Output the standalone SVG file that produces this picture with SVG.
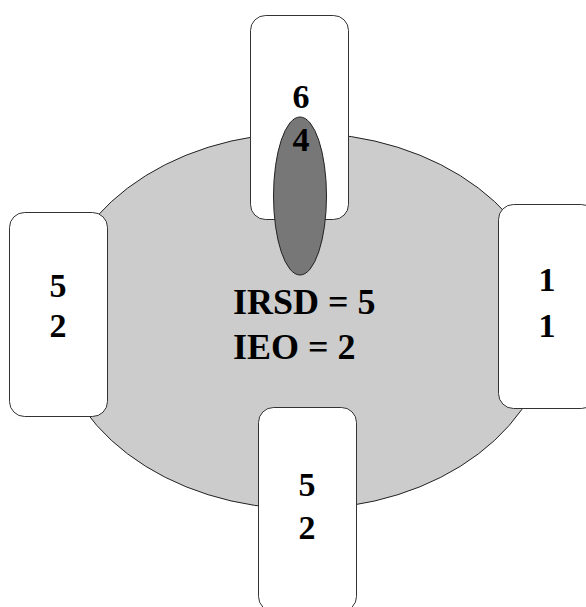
<svg xmlns="http://www.w3.org/2000/svg" width="586" height="607" viewBox="0 0 586 607">
  <style>
    .table { fill: #cccccc; stroke: #222222; stroke-width: 1; }
    .seat { fill: #ffffff; stroke: #333333; stroke-width: 1; }
    .marker { fill: #777777; stroke: #222222; stroke-width: 1; }
    .num { font-size: 34px; text-anchor: middle; }
    .label { font-size: 36px; }
  </style>
  <rect width="586" height="607" fill="#ffffff"/>

  <!-- central table -->
  <g id="table">
    <ellipse class="table" cx="303" cy="321" rx="248" ry="188"/>
  </g>

  <!-- seats around the table -->
  <g id="seat-top">
    <rect class="seat" x="250.5" y="15.5" width="98" height="204" rx="15" ry="15"/>
  </g>
  <g id="seat-left">
    <rect class="seat" x="9.5" y="212.5" width="98" height="204" rx="15" ry="15"/>
  </g>
  <g id="seat-right">
    <rect class="seat" x="498.5" y="204.5" width="98" height="204" rx="15" ry="15"/>
  </g>
  <g id="seat-bottom">
    <rect class="seat" x="258.5" y="407.5" width="98" height="204" rx="15" ry="15"/>
  </g>

  <!-- dark oval overlapping the top seat -->
  <g id="marker">
    <ellipse class="marker" cx="300" cy="196" rx="26.5" ry="79"/>
  </g>

  <g font-family="'Liberation Serif', 'Times New Roman', serif" font-weight="bold" fill="#000000">
    <!-- seat values -->
    <g id="seat-top-text">
      <text class="num" x="301" y="108">6</text>
      <text class="num" x="301" y="151">4</text>
    </g>
    <g id="seat-left-text">
      <text class="num" x="58" y="296.5">5</text>
      <text class="num" x="58" y="336.5">2</text>
    </g>
    <g id="seat-right-text">
      <text class="num" x="547" y="290.5">1</text>
      <text class="num" x="547" y="336.5">1</text>
    </g>
    <g id="seat-bottom-text">
      <text class="num" x="307" y="496">5</text>
      <text class="num" x="307" y="539">2</text>
    </g>

    <!-- table summary -->
    <g id="table-text">
      <text class="label" x="233" y="314">IRSD = 5</text>
      <text class="label" x="233" y="359">IEO = 2</text>
    </g>
  </g>
</svg>
